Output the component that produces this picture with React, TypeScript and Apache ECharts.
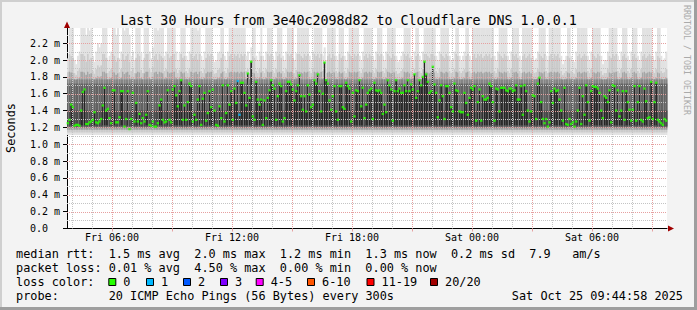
import React, { useEffect, useRef } from "react";
import * as echarts from "echarts";

// ---- time axis (hours since Fri 00:00) ----
const START_HOUR = 3.75; // Fri 03:45
const END_HOUR = 33.75; // Sat 09:45
const STEP_H = 5 / 60; // 300 s
const xLabelValues = [6, 12, 18, 24, 30];
const xLabelTexts = ["Fri 06:00", "Fri 12:00", "Fri 18:00", "Sat 00:00", "Sat 06:00"];
const yMaxMs = 2.38;

// ---- median rtt per 5-minute step (ms) ----
const medianMs = [
  1.25, 1.29, 1.47, 1.44, 1.22, 1.23, 1.23, 1.22, 1.4, 1.62, 1.65, 1.24, 1.24, 1.26, 1.27, 1.29, 1.38, 1.26, 1.25, 1.27,
  1.3, 1.46, 1.67, 1.4, 1.42, 1.31, 1.25, 1.64, 1.64, 1.26, 1.26, 1.32, 1.63, 1.63, 1.21, 1.3, 1.63, 1.18, 1.3, 1.61,
  1.27, 1.49, 1.27, 1.36, 1.25, 1.31, 1.27, 1.35, 1.63, 1.23, 1.22, 1.27, 1.21, 1.21, 1.25, 1.46, 1.53, 1.29, 1.26, 1.27,
  1.64, 1.29, 1.26, 1.65, 1.69, 1.58, 1.45, 1.63, 1.76, 1.29, 1.46, 1.29, 1.5, 1.72, 1.69, 1.27, 1.35, 1.29, 1.53, 1.69,
  1.23, 1.54, 1.61, 1.28, 1.37, 1.63, 1.44, 1.65, 1.4, 1.23, 1.22, 1.45, 1.31, 1.7, 1.27, 1.37, 1.7, 1.47, 1.63, 1.29,
  1.66, 1.49, 1.75, 1.35, 1.73, 1.73, 1.61, 1.46, 1.84, 1.55, 1.98, 1.33, 1.29, 1.74, 1.53, 1.47, 1.53, 1.23, 1.52, 1.31,
  1.55, 1.64, 1.76, 1.7, 1.66, 1.29, 1.57, 1.72, 1.69, 1.27, 1.31, 1.63, 1.74, 1.74, 1.71, 1.65, 1.52, 1.63, 1.7, 1.82,
  1.57, 1.41, 1.57, 1.39, 1.7, 1.59, 1.44, 1.47, 1.76, 1.72, 1.83, 1.63, 1.39, 1.6, 1.97, 1.76, 1.72, 1.52, 1.41, 1.57,
  1.69, 1.39, 1.29, 1.69, 1.69, 1.44, 1.42, 1.73, 1.69, 1.66, 1.27, 1.61, 1.33, 1.64, 1.63, 1.76, 1.45, 1.67, 1.31, 1.47,
  1.61, 1.64, 1.66, 1.3, 1.73, 1.64, 1.63, 1.64, 1.61, 1.36, 1.47, 1.38, 1.76, 1.7, 1.65, 1.28, 1.63, 1.76, 1.63, 1.66,
  1.61, 1.61, 1.7, 1.63, 1.76, 1.63, 1.71, 1.65, 1.83, 1.55, 1.63, 1.76, 1.7, 1.8, 1.98, 1.83, 1.74, 1.61, 1.63, 1.92,
  1.71, 1.61, 1.32, 1.52, 1.7, 1.57, 1.3, 1.69, 1.69, 1.61, 1.44, 1.39, 1.72, 1.64, 1.63, 1.39, 1.38, 1.38, 1.61, 1.49,
  1.35, 1.55, 1.67, 1.65, 1.69, 1.28, 1.5, 1.65, 1.28, 1.57, 1.53, 1.53, 1.55, 1.72, 1.69, 1.5, 1.28, 1.66, 1.65, 1.39,
  1.67, 1.67, 1.67, 1.64, 1.63, 1.66, 1.66, 1.63, 1.64, 1.7, 1.53, 1.53, 1.69, 1.35, 1.7, 1.63, 1.4, 1.27, 1.39, 1.58,
  1.57, 1.3, 1.72, 1.79, 1.5, 1.3, 1.25, 1.3, 1.21, 1.26, 1.63, 1.49, 1.66, 1.63, 1.64, 1.53, 1.4, 1.28, 1.67, 1.24,
  1.23, 1.3, 1.24, 1.26, 1.21, 1.27, 1.4, 1.67, 1.24, 1.57, 1.35, 1.7, 1.5, 1.28, 1.63, 1.69, 1.68, 1.68, 1.66, 1.61,
  1.4, 1.31, 1.57, 1.55, 1.5, 1.64, 1.26, 1.7, 1.69, 1.4, 1.64, 1.33, 1.4, 1.63, 1.29, 1.63, 1.5, 1.41, 1.28, 1.41,
  1.69, 1.28, 1.5, 1.69, 1.29, 1.27, 1.66, 1.51, 1.31, 1.32, 1.74, 1.3, 1.5, 1.73, 1.29, 1.27, 1.25, 1.23, 1.3, 1.28,
];

// ---- slowest ping per step (ms), estimated; values above the axis top are clipped ----
const maxMs = [
  2.02, 2.5, 2.45, 2.4, 2.0, 1.95, 2.05, 2.1, 2.5, 2.5, 2.45, 2.3, 2.5, 2.35, 2.4, 2.05, 1.98, 2.1, 2.2, 2.15,
  2.2, 2.5, 2.5, 2.4, 2.0, 2.05, 2.1, 2.5, 2.45, 2.3, 2.4, 2.02, 2.1, 2.5, 2.35, 2.45, 2.5, 2.3, 2.05, 2.1,
  2.0, 2.4, 2.5, 2.45, 2.08, 2.0, 2.4, 2.5, 2.5, 2.1, 2.02, 2.15, 2.45, 2.5, 2.35, 2.5, 2.45, 2.4, 2.05, 2.1,
  2.5, 2.4, 2.45, 2.5, 2.5, 2.1, 2.0, 2.08, 2.5, 2.4, 2.45, 2.05, 2.0, 2.1, 2.5, 2.4, 2.45, 2.5, 2.35, 2.5,
  2.05, 2.0, 2.1, 2.4, 2.5, 2.45, 2.5, 2.05, 1.98, 2.0, 2.08, 2.1, 2.4, 2.5, 2.05, 2.0, 2.1, 2.45, 2.5, 2.4,
  2.5, 2.45, 2.5, 2.4, 2.5, 2.45, 2.5, 2.05, 2.1, 2.0, 2.15, 2.45, 2.4, 2.05, 2.0, 2.1, 2.45, 2.05, 2.0, 2.1,
  2.5, 2.45, 2.5, 2.05, 2.0, 2.1, 2.45, 2.5, 2.4, 2.05, 2.0, 2.1, 2.5, 2.45, 2.5, 2.4, 2.0, 2.08, 2.5, 2.5,
  2.45, 2.4, 2.5, 2.45, 2.5, 2.05, 2.0, 2.1, 2.5, 2.45, 2.5, 2.4, 2.5, 2.05, 2.15, 2.0, 2.45, 2.5, 2.4, 2.5,
  2.45, 2.05, 2.0, 2.5, 2.4, 2.45, 2.05, 2.0, 2.1, 2.5, 2.45, 2.4, 2.5, 2.45, 2.5, 2.05, 2.0, 2.1, 2.45, 2.5,
  2.4, 2.5, 2.45, 2.05, 2.0, 2.1, 2.5, 2.45, 2.5, 2.05, 2.0, 2.1, 2.5, 2.45, 2.4, 2.5, 2.45, 2.05, 1.98, 2.0,
  2.05, 2.1, 2.5, 2.45, 2.5, 2.4, 2.05, 2.0, 2.1, 2.45, 2.5, 2.05, 2.0, 2.1, 2.5, 2.5, 2.45, 2.4, 2.5, 2.5,
  2.45, 2.05, 2.0, 2.1, 2.5, 2.45, 2.4, 2.5, 2.45, 2.05, 2.0, 2.02, 2.1, 2.5, 2.45, 2.05, 2.0, 2.05, 2.1, 2.45,
  2.5, 2.05, 2.0, 2.45, 2.5, 2.4, 2.5, 2.45, 2.5, 2.4, 2.45, 2.5, 2.45, 2.5, 2.4, 2.45, 2.05, 2.0, 2.1, 2.5,
  2.45, 2.4, 2.5, 2.45, 2.05, 2.0, 2.1, 2.5, 2.45, 2.5, 2.4, 2.05, 2.0, 2.45, 2.5, 2.4, 2.45, 2.5, 2.4, 2.05,
  2.0, 2.02, 2.1, 2.5, 2.45, 2.4, 2.5, 2.05, 2.0, 2.45, 2.5, 2.4, 2.5, 2.45, 2.5, 2.4, 2.05, 1.95, 2.0, 2.05,
  2.45, 2.4, 2.05, 2.0, 1.98, 2.1, 2.45, 2.5, 2.4, 2.45, 2.5, 2.45, 2.05, 2.0, 2.1, 2.5, 2.45, 2.4, 2.5, 2.45,
  2.05, 1.95, 2.0, 2.0, 2.1, 2.45, 2.4, 2.5, 2.45, 2.5, 2.05, 2.0, 2.1, 2.45, 2.5, 2.4, 2.05, 2.0, 2.1, 2.45,
  2.5, 2.4, 2.05, 2.0, 2.1, 2.45, 2.5, 2.4, 2.45, 2.5, 2.45, 2.05, 2.0, 2.1, 2.45, 2.4, 2.05, 2.0, 2.02, 2.1,
];

// steps with packet loss (index, lost pings)
const lossIndex = [102, 103];
const lossCount = [1, 1];

// ---- legend texts ----
const rttLabel = "median rtt:";
const rttStats = ["1.5 ms avg", "2.0 ms max", "1.2 ms min", "1.3 ms now", "0.2 ms sd", "7.9", "am/s"];
const pktLabel = "packet loss:";
const pktStats = ["0.01 % avg", "4.50 % max", "0.00 % min", "0.00 % now"];
const lossColorLabel = "loss color:";
const lossClasses = ["0", "1", "2", "3", "4-5", "6-10", "11-19", "20/20"];
const probeLabel = "probe:";
const probeText = "20 ICMP Echo Pings (56 Bytes) every 300s";
const stampText = "Sat Oct 25 09:44:58 2025";
const titleText = "Last 30 Hours from 3e40c2098d82 to Cloudflare DNS 1.0.0.1";

// ---- styles / layout ----
const lossColors = ["#26ff00", "#00b8ff", "#0059ff", "#7e00ff", "#ff00ff", "#ff5500", "#ff0000", "#a10000"];
const rttCols = [13, 25, 37, 49, 61, 72, 78];
const pktCols = [13, 25, 37, 49];
const lossTextX = [123.3, 161, 198, 235, 270.7, 322, 381.5, 445];
const MONO = "'DejaVu Sans Mono', monospace";
const CH = 7.13;
const LX = 16;
const MAJOR_GRID = "#e6a0a0";
const MINOR_GRID = "#c4c4c4";

function lossColorFor(count: number): string {
  if (count <= 0) return lossColors[0];
  if (count === 1) return lossColors[1];
  if (count === 2) return lossColors[2];
  if (count === 3) return lossColors[3];
  if (count <= 5) return lossColors[4];
  if (count <= 10) return lossColors[5];
  if (count <= 19) return lossColors[6];
  return lossColors[7];
}

function txt(x: number, y: number, text: string, size = 11.85, align = "left", fill = "#000", extra: any = {}) {
  return {
    type: "text",
    x,
    y,
    silent: true,
    z: 50,
    ...extra,
    style: { text, font: `${size}px ${MONO}`, fill, textAlign: align, textVerticalAlign: "middle" },
  };
}

export default function App() {
  const ref = useRef<HTMLDivElement>(null);

  useEffect(() => {
    if (!ref.current) return;
    const chart = echarts.init(ref.current, undefined, { renderer: "svg" });

    const hourLines: number[] = [];
    for (let h = Math.ceil(START_HOUR); h < END_HOUR; h++) hourLines.push(h);
    const msLines: number[] = [];
    for (let k = 1; k / 10 < yMaxMs; k++) msLines.push(k / 10);

    const smokeData = medianMs.map((m, i) => [START_HOUR + (i + 0.5) * STEP_H, m, maxMs[i]]);
    const lossMap: Record<number, number> = {};
    lossIndex.forEach((idx, k) => (lossMap[idx] = lossCount[k]));
    const dotData = medianMs.map((m, i) => ({
      value: [START_HOUR + (i + 0.5) * STEP_H, m],
      itemStyle: { color: lossColorFor(lossMap[i] || 0) },
    }));

    const graphics: any[] = [];
    // frame
    graphics.push({ type: "rect", shape: { x: 0, y: 0, width: 697, height: 2 }, style: { fill: "#cfcfcf" }, z: 40 });
    graphics.push({ type: "rect", shape: { x: 0, y: 0, width: 2, height: 310 }, style: { fill: "#cfcfcf" }, z: 40 });
    graphics.push({ type: "rect", shape: { x: 0, y: 307, width: 697, height: 3 }, style: { fill: "#9e9e9e" }, z: 41 });
    graphics.push({ type: "rect", shape: { x: 694, y: 0, width: 3, height: 310 }, style: { fill: "#9e9e9e" }, z: 41 });
    // arrows
    graphics.push({ type: "polygon", shape: { points: [[64, 28], [67, 21.5], [70, 28]] }, style: { fill: "#a00000" }, z: 45 });
    graphics.push({ type: "polygon", shape: { points: [[668, 225.5], [674, 228.5], [668, 231.5]] }, style: { fill: "#a00000" }, z: 45 });
    // title and side texts
    graphics.push(txt(348.5, 20, titleText, 13.3, "center"));
    graphics.push(txt(11, 128, "Seconds", 11.85, "center", "#000", { rotation: Math.PI / 2 }));
    graphics.push(txt(687, 60, "RRDTOOL / TOBI OETIKER", 8.3, "center", "#aaaaaa", { rotation: -Math.PI / 2 }));
    // legend rows
    const r1 = 254.3, r2 = 268.3, r3 = 282.3, r4 = 296.2;
    graphics.push(txt(LX, r1, rttLabel));
    rttStats.forEach((s, k) => graphics.push(txt(LX + rttCols[k] * CH, r1, s)));
    graphics.push(txt(LX, r2, pktLabel));
    pktStats.forEach((s, k) => graphics.push(txt(LX + pktCols[k] * CH, r2, s)));
    graphics.push(txt(LX, r3, lossColorLabel));
    lossClasses.forEach((s, k) => {
      const tx = lossTextX[k];
      graphics.push({
        type: "rect",
        z: 50,
        shape: { x: tx - 14.5, y: 278.5, width: 7, height: 7 },
        style: { fill: lossColors[k], stroke: "#000", lineWidth: 1 },
      });
      graphics.push(txt(tx, r3, s));
    });
    graphics.push(txt(LX, r4, probeLabel));
    graphics.push(txt(LX + 13 * CH, r4, probeText));
    graphics.push(txt(683, r4, stampText, 11.85, "right"));

    const option: any = {
      animation: false,
      backgroundColor: "#f3f3f3",
      grid: {
        left: 67,
        right: 30,
        top: 28,
        bottom: 81.5,
        show: true,
        backgroundColor: "#ffffff",
        borderWidth: 0,
      },
      xAxis: {
        type: "value",
        min: START_HOUR,
        max: END_HOUR,
        splitLine: { show: false },
        axisLine: { show: true, onZero: false, lineStyle: { color: "#000", width: 1 } },
        axisTick: {
          show: true,
          customValues: hourLines.filter((h) => h % 3 === 0),
          length: 3,
          lineStyle: { color: MAJOR_GRID },
        },
        axisLabel: {
          customValues: xLabelValues,
          formatter: (v: number) => {
            const k = xLabelValues.indexOf(Math.round(v));
            return k >= 0 ? xLabelTexts[k] : "";
          },
          margin: 4,
          fontFamily: MONO,
          fontSize: 10,
          color: "#000",
        },
      },
      yAxis: {
        type: "value",
        min: 0,
        max: yMaxMs,
        interval: 0.2,
        splitLine: { show: false },
        axisLine: { show: true, lineStyle: { color: "#000", width: 1 } },
        axisTick: { show: true, length: 4, lineStyle: { color: "#000" } },
        axisLabel: {
          showMaxLabel: false,
          align: "left",
          margin: 37,
          fontFamily: MONO,
          fontSize: 10,
          color: "#000",
          formatter: (v: number) => {
            if (Math.abs(v * 5 - Math.round(v * 5)) > 1e-6) return "";
            if (Math.abs(v) < 1e-9) return "0.0";
            return v.toFixed(1) + " m";
          },
        },
      },
      graphic: graphics,
      series: [
        {
          type: "custom",
          name: "smoke",
          z: 2,
          silent: true,
          data: smokeData,
          renderItem: (params: any, api: any) => {
            const tc = api.value(0);
            const med = api.value(1);
            const top = Math.max(api.value(2), med + 0.15);
            const t0 = tc - STEP_H / 2;
            const xa = api.coord([t0, 0])[0];
            const xb = api.coord([t0 + STEP_H, 0])[0];
            const w = xb - xa + 0.35;
            const yy = (v: number) => api.coord([t0, Math.min(v, yMaxMs)])[1];
            const rect = (lo: number, hi: number, fill: string, ww = w, dx = 0) => ({
              type: "rect",
              shape: { x: xa + dx, y: yy(hi), width: ww, height: Math.max(0, yy(lo) - yy(hi)) },
              style: { fill },
            });
            const children: any[] = [
              rect(1.11, top, "#e2e2e2"),
              rect(1.14, 1.72 + (top - 1.72) * 0.45, "#cbcbcb"),
              rect(1.17, 1.72 + (top - 1.72) * 0.18, "#a6a6a6"),
              rect(1.19, 1.77, "#848484"),
              rect(1.205, 1.72, "#626262"),
              rect(1.215, Math.max(1.4, med), "#4a4a4a"),
            ];
            if (med > 1.32) children.push(rect(1.23, med, "#242424", w * 0.55, 0.35));
            return { type: "group", children };
          },
        },
        {
          type: "custom",
          name: "grid",
          z: 4,
          silent: true,
          data: [[START_HOUR + 1, 1]],
          renderItem: (params: any, api: any) => {
            const children: any[] = [];
            const yTop = api.coord([START_HOUR, yMaxMs])[1];
            const yBot = api.coord([START_HOUR, 0])[1];
            const xL = api.coord([START_HOUR, 0])[0];
            const xR = api.coord([END_HOUR, 0])[0];
            hourLines.forEach((h) => {
              const x = Math.round(api.coord([h, 0])[0]) + 0.5;
              children.push({
                type: "line",
                shape: { x1: x, y1: yTop, x2: x, y2: yBot },
                style: { stroke: h % 3 === 0 ? MAJOR_GRID : MINOR_GRID, lineWidth: 1, lineDash: [1, 1] },
              });
            });
            msLines.forEach((v) => {
              const y = Math.round(api.coord([START_HOUR, v])[1]) + 0.5;
              const major = Math.round(v * 10) % 2 === 0;
              children.push({
                type: "line",
                shape: { x1: xL, y1: y, x2: xR, y2: y },
                style: { stroke: major ? MAJOR_GRID : MINOR_GRID, lineWidth: 1, lineDash: [1, 1] },
              });
            });
            return { type: "group", children };
          },
        },
        {
          type: "scatter",
          name: "median rtt",
          z: 6,
          silent: true,
          symbol: "rect",
          symbolSize: [2.5, 2.3],
          data: dotData,
        },
      ],
    };

    chart.setOption(option);
    return () => chart.dispose();
  }, []);

  return (
    <div
      ref={ref}
      style={{ position: "absolute", left: 0, top: 0, width: 697, height: 310 }}
    />
  );
}
